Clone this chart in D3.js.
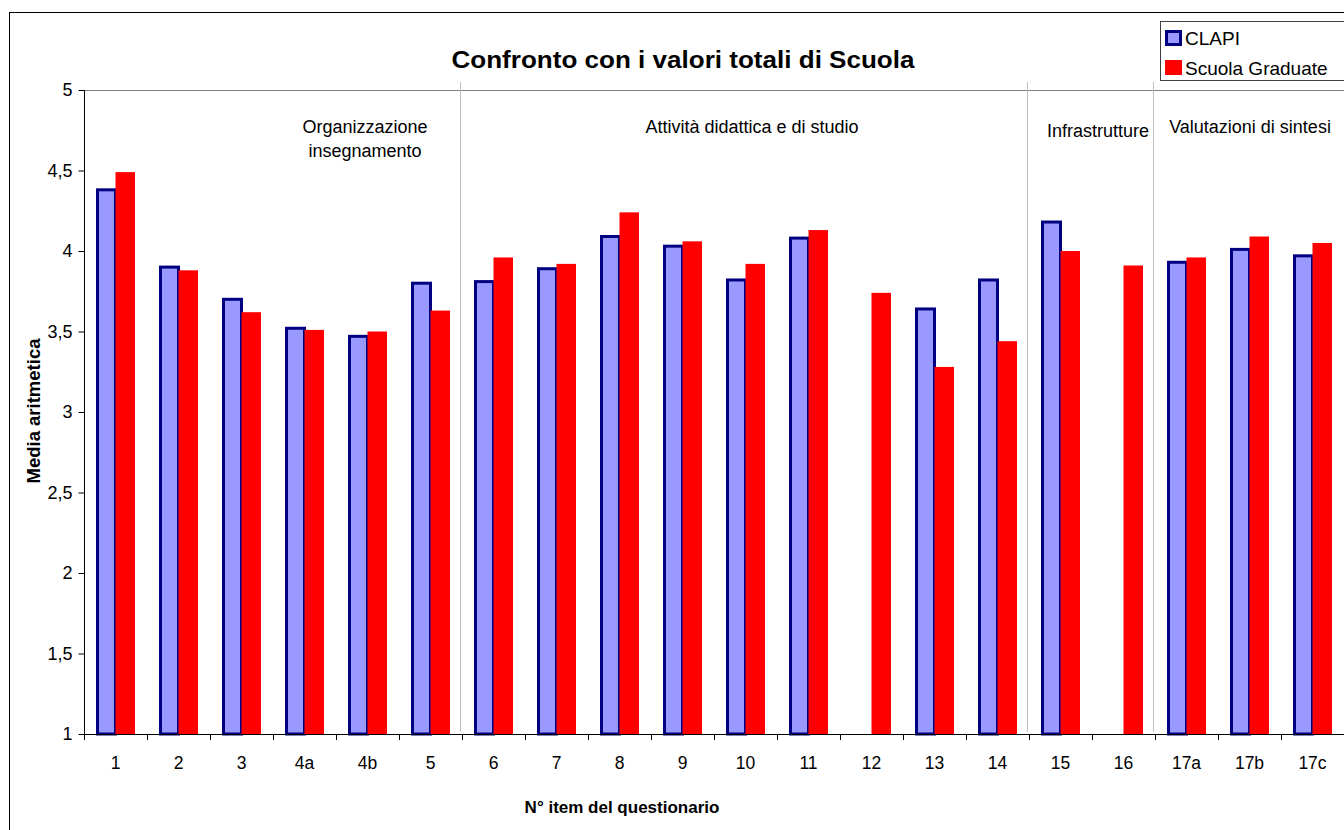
<!DOCTYPE html>
<html>
<head>
<meta charset="utf-8">
<script src="https://cdn.jsdelivr.net/npm/d3@7"></script>
<style>
  html, body { margin: 0; padding: 0; background: #fff; overflow: hidden; }
  svg { display: block; font-family: "Liberation Sans", Arial, sans-serif; }
</style>
</head>
<body>
<svg id="chart" width="1344" height="830"></svg>
<script>
// ---- data ----
const categories = ["1","2","3","4a","4b","5","6","7","8","9","10","11","12","13","14","15","16","17a","17b","17c"];
const seriesNames = ["CLAPI", "Scuola Graduate"];
const clapi  = [4.38,3.90,3.70,3.52,3.47,3.80,3.81,3.89,4.09,4.03,3.82,4.08,null,3.64,3.82,4.18,null,3.93,4.01,3.97];
const scuola = [4.49,3.88,3.62,3.51,3.50,3.63,3.96,3.92,4.24,4.06,3.92,4.13,3.74,3.28,3.44,4.00,3.91,3.96,4.09,4.05];
const yTicks = [1,1.5,2,2.5,3,3.5,4,4.5,5];
const groupLabels = [["Organizzazione","insegnamento"],["Attività didattica e di studio"],["Infrastrutture"],["Valutazioni di sintesi"]];
const separatorsBefore = ["6","15","17a"];
const titleText = "Confronto con i valori totali di Scuola";
const xTitle = "N° item del questionario";
const yTitle = "Media aritmetica";

(function () {
// ---- layout ----
const svg = d3.select("#chart");
const pLeft = 84, pRight = 1344, pTop = 90, pBottom = 734;

const x = d3.scaleBand().domain(categories).range([pLeft, pRight]).padding(0);
const xs = d3.scaleBand().domain(seriesNames).range([12, 51]).padding(0);
const y = d3.scaleLinear().domain([1, 5]).range([pBottom, pTop]);

// outer chart border
svg.append("rect").attr("x", 9.5).attr("y", 12.5).attr("width", 1500).attr("height", 1000)
  .attr("fill", "#fff").attr("stroke", "#000").attr("stroke-width", 1);

// plot area top border
svg.append("line").attr("x1", pLeft).attr("x2", pRight).attr("y1", pTop + 0.5).attr("y2", pTop + 0.5)
  .attr("stroke", "#808080").attr("stroke-width", 1);

// separators
svg.selectAll("line.sep").data(separatorsBefore).enter().append("line")
  .attr("class", "sep")
  .attr("x1", d => Math.round(x(d)) - 1.5).attr("x2", d => Math.round(x(d)) - 1.5)
  .attr("y1", 82).attr("y2", pBottom - 2)
  .attr("stroke", "#c0c0c0").attr("stroke-width", 1);

// bars
const data = categories.map((c, i) => ({ c, vals: [clapi[i], scuola[i]] }));
const g = svg.selectAll("g.cat").data(data).enter().append("g").attr("class", "cat")
  .attr("transform", d => `translate(${x(d.c)},0)`);

g.filter(d => d.vals[0] != null).append("rect")
  .attr("x", xs("CLAPI") + 1.5)
  .attr("width", xs.bandwidth() - 1.5)
  .attr("y", d => y(d.vals[0]))
  .attr("height", d => y(1) - y(d.vals[0]))
  .attr("fill", "#9999ff").attr("stroke", "#000080").attr("stroke-width", 3);

g.filter(d => d.vals[1] != null).append("rect")
  .attr("x", xs("Scuola Graduate"))
  .attr("width", xs.bandwidth())
  .attr("y", d => y(d.vals[1]))
  .attr("height", d => y(1) - y(d.vals[1]))
  .attr("fill", "#ff0000");

// y axis
const yAxis = svg.append("g").attr("transform", `translate(${pLeft + 0.5},0)`)
  .call(d3.axisLeft(y).tickValues(yTicks).tickSize(6).tickPadding(6)
    .tickFormat(d => String(d).replace(".", ",")));
yAxis.select(".domain").attr("stroke", "#000").attr("d", `M0,${pTop}V${pBottom}`);
yAxis.selectAll(".tick line").attr("stroke", "#000");
yAxis.selectAll(".tick text").attr("font-size", 18).attr("fill", "#000")
  .attr("font-family", "Liberation Sans, Arial, sans-serif");

// x axis
const xAxis = svg.append("g").attr("transform", `translate(0,${pBottom + 0.5})`)
  .call(d3.axisBottom(x).tickSize(0).tickPadding(22));
xAxis.select(".domain").attr("stroke", "#000").attr("d", `M${pLeft},0H${pRight}`);
xAxis.selectAll(".tick text").attr("font-size", 17.5).attr("fill", "#000")
  .attr("font-family", "Liberation Sans, Arial, sans-serif");
// x ticks at category boundaries
const bounds = categories.map(c => x(c)).concat([pRight]);
svg.append("g").selectAll("line").data(bounds).enter().append("line")
  .attr("x1", d => Math.round(d) + 0.5).attr("x2", d => Math.round(d) + 0.5)
  .attr("y1", pBottom).attr("y2", pBottom + 6)
  .attr("stroke", "#000").attr("stroke-width", 1);

// group labels
const glPos = [[365, 133], [752, 133], [1098, 137], [1250, 133]];
groupLabels.forEach((lines, i) => {
  const t = svg.append("text").attr("text-anchor", "middle").attr("font-size", 18).attr("fill", "#000")
    .attr("transform", `translate(${glPos[i][0]},${glPos[i][1]})`);
  lines.forEach((ln, j) => t.append("tspan").attr("x", 0).attr("dy", j === 0 ? 0 : 24).text(ln));
});

// title
svg.append("text").attr("x", 683).attr("y", 68).attr("text-anchor", "middle")
  .attr("font-size", 24).attr("font-weight", "bold").attr("fill", "#000")
  .attr("textLength", 463).attr("lengthAdjust", "spacingAndGlyphs")
  .text(titleText);

// axis titles
svg.append("text").attr("x", 622).attr("y", 813).attr("text-anchor", "middle")
  .attr("font-size", 17).attr("font-weight", "bold").attr("fill", "#000").text(xTitle);
svg.append("text").attr("transform", "translate(40,411) rotate(-90)").attr("text-anchor", "middle")
  .attr("font-size", 18.5).attr("font-weight", "bold").attr("fill", "#000").text(yTitle);

// legend
const lg = svg.append("g");
lg.append("rect").attr("x", 1160.5).attr("y", 21.5).attr("width", 200).attr("height", 59)
  .attr("fill", "#fff").attr("stroke", "#404040").attr("stroke-width", 1);
const legendItems = [
  { name: seriesNames[0], fill: "#9999ff", stroke: "#000080" },
  { name: seriesNames[1], fill: "#ff0000", stroke: null }
];
legendItems.forEach((it, i) => {
  const yy = 30 + i * 30;
  if (it.stroke) {
    lg.append("rect").attr("x", 1166.5).attr("y", yy + 1.5).attr("width", 14).attr("height", 13)
      .attr("fill", it.fill).attr("stroke", it.stroke).attr("stroke-width", 3);
  } else {
    lg.append("rect").attr("x", 1165).attr("y", yy).attr("width", 17).attr("height", 15).attr("fill", it.fill);
  }
  lg.append("text").attr("x", 1185).attr("y", yy + 15).attr("font-size", 19).attr("fill", "#000").text(it.name);
});
})();
</script>
</body>
</html>
